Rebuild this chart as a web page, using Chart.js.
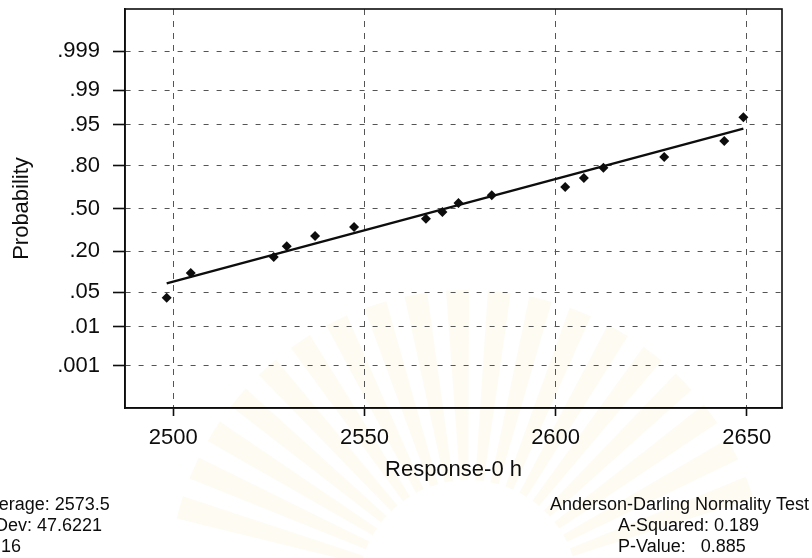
<!DOCTYPE html>
<html>
<head>
<meta charset="utf-8">
<title>Normal Probability Plot</title>
<script src="https://cdn.jsdelivr.net/npm/chart.js@4.4.1/dist/chart.umd.min.js"></script>
<style>
  html, body { margin: 0; padding: 0; background: #fff; }
  canvas { display: block; }
</style>
</head>
<body>
<canvas id="probPlot" width="812" height="558"></canvas>
<script>
// probability ticks, placed at their normal scores
const probLabels = ['.001', '.01', '.05', '.20', '.50', '.80', '.95', '.99', '.999'];
const probZ = [-3.090, -2.326, -1.645, -0.842, 0, 0.842, 1.645, 2.326, 3.090];
const xTicks = [2500, 2550, 2600, 2650];

// observations (Response-0 h) and their plotted normal scores
const response = [2498.3, 2504.6, 2526.3, 2529.7, 2537.1, 2547.3, 2566.1, 2570.4,
                  2574.6, 2583.3, 2602.5, 2607.4, 2612.5, 2628.4, 2644.1, 2649.1];
const scoreZ = [-1.756, -1.265, -0.951, -0.742, -0.540, -0.363, -0.199, -0.068,
                0.108, 0.259, 0.422, 0.599, 0.802, 1.010, 1.324, 1.795];

// fitted line end points
const fitX = [2498.3, 2649.1];
const fitZ = [-1.473, 1.568];

const statsLeft = ['Average: 2573.5', 'StDev: 47.6221', 'N: 16'];
const statsRight = ['Anderson-Darling Normality Test', 'A-Squared: 0.189', 'P-Value:   0.885'];

const FONT = "'Liberation Sans', Arial, sans-serif";
const INK = '#0d0d0d';

// faint sunburst stamp behind the plot
const stampPlugin = {
  id: 'stamp',
  beforeDraw(chart) {
    const { ctx } = chart;
    const cx = 468, cy = 590;
    ctx.save();
    ctx.fillStyle = 'rgba(251, 238, 200, 0.22)';
    for (let a = 196; a <= 344; a += 8) {
      const a0 = (a - 2.2) * Math.PI / 180, a1 = (a + 2.2) * Math.PI / 180;
      ctx.beginPath();
      ctx.arc(cx, cy, 300, a0, a1);
      ctx.arc(cx, cy, 110, a1, a0, true);
      ctx.closePath();
      ctx.fill();
    }
    ctx.restore();
  }
};

const framePlugin = {
  id: 'frame',
  afterDraw(chart) {
    const { ctx, chartArea: a } = chart;
    ctx.save();
    ctx.strokeStyle = INK;
    ctx.lineWidth = 1.6;
    ctx.strokeRect(a.left, a.top, a.right - a.left, a.bottom - a.top);

    ctx.fillStyle = INK;
    ctx.font = '18px ' + FONT;
    ctx.textBaseline = 'alphabetic';
    const baselines = [510, 531, 552];
    statsLeft.forEach((t, i) => ctx.fillText(t, -22, baselines[i]));
    ctx.fillText(statsRight[0], 550, baselines[0]);
    ctx.fillText(statsRight[1], 618, baselines[1]);
    ctx.fillText(statsRight[2], 618, baselines[2]);
    ctx.restore();
  }
};

new Chart(document.getElementById('probPlot'), {
  type: 'scatter',
  data: {
    datasets: [
      {
        data: response.map((v, i) => ({ x: v, y: scoreZ[i] })),
        pointStyle: 'rectRot',
        pointRadius: 5,
        backgroundColor: INK,
        borderColor: INK,
        borderWidth: 0
      },
      {
        type: 'line',
        data: fitX.map((v, i) => ({ x: v, y: fitZ[i] })),
        borderColor: INK,
        borderWidth: 2.4,
        pointRadius: 0,
        fill: false
      }
    ]
  },
  options: {
    responsive: false,
    animation: false,
    devicePixelRatio: 1,
    layout: { padding: { left: 0, right: 30, top: 9, bottom: 72 } },
    plugins: { legend: { display: false }, tooltip: { enabled: false } },
    scales: {
      x: {
        type: 'linear',
        min: 2487.4,
        max: 2659.2,
        afterBuildTicks: scale => { scale.ticks = xTicks.map(v => ({ value: v })); },
        afterFit: scale => { scale.height = 78; scale.paddingLeft = 0; scale.paddingRight = 0; },
        ticks: {
          color: INK,
          font: { family: FONT, size: 22 },
          padding: 9,
          maxRotation: 0,
          callback: v => String(v)
        },
        grid: { color: '#555', lineWidth: 1, tickLength: 8, tickColor: INK, tickWidth: 1.6 },
        border: { color: INK, width: 1.6, dash: [6, 6] },
        title: { display: true, text: 'Response-0 h', color: INK, font: { family: FONT, size: 22 }, padding: { top: 0, bottom: 3 } }
      },
      y: {
        type: 'linear',
        min: -3.92,
        max: 3.92,
        afterBuildTicks: scale => { scale.ticks = probZ.map(v => ({ value: v })); },
        afterFit: scale => { scale.width = 125; scale.paddingTop = 0; scale.paddingBottom = 0; },
        ticks: {
          color: INK,
          font: { family: FONT, size: 22 },
          padding: 13,
          callback: (v, i) => probLabels[i]
        },
        grid: { color: '#555', lineWidth: 1, tickLength: 12, tickColor: INK, tickWidth: 1.6 },
        border: { color: INK, width: 1.6, dash: [5, 8] },
        title: { display: true, text: 'Probability', color: INK, font: { family: FONT, size: 22 }, padding: { top: 9, bottom: 0 } }
      }
    }
  },
  plugins: [stampPlugin, framePlugin]
});
</script>
</body>
</html>
